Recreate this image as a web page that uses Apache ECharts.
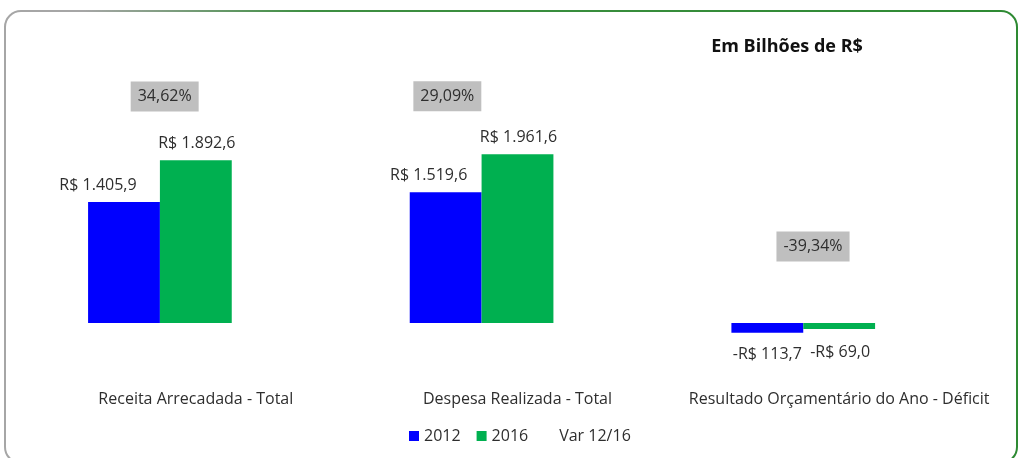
<!DOCTYPE html>
<html>
<head>
<meta charset="utf-8">
<script src="https://cdn.jsdelivr.net/npm/echarts@6/dist/echarts.min.js"></script>
<style>
  html, body { margin: 0; padding: 0; background: #fff; }
  #chart { width: 1020px; height: 458px; }
</style>
</head>
<body>
<div id="chart"></div>
<script>
const categories = ['Receita Arrecadada - Total', 'Despesa Realizada - Total', 'Resultado Orçamentário do Ano - Déficit']
const values2012 = [1405.9, 1519.6, -113.7]
const values2016 = [1892.6, 1961.6, -69.0]
const variation = [34.62, 29.09, -39.34]

// where Excel left the % boxes (moved by hand in the original)
const varOffsets = [[-103, -48], [-142, -49], [-98, 38]]
const blueLabelShift = [-26, -17, 0]

const textColor = '#2e2e2e'
const fontFamily = '"Open Sans", "Noto Sans", sans-serif'

function brl(v) {
  const s = Math.abs(v).toFixed(1).split('.')
  const int = s[0].replace(/\B(?=(\d{3})+(?!\d))/g, '.')
  return (v < 0 ? '-' : '') + 'R$ ' + int + ',' + s[1]
}

const chart = echarts.init(document.getElementById('chart'))

chart.setOption({
  animation: false,
  textStyle: { fontFamily: fontFamily, color: textColor },
  title: {
    text: 'Em Bilhões de R$',
    left: 782,
    top: 33,
    textAlign: 'center',
    textStyle: { fontSize: 18, fontWeight: 'bold', color: '#111', fontFamily: fontFamily }
  },
  legend: {
    left: 404,
    top: 423,
    icon: 'rect',
    itemWidth: 10,
    itemHeight: 10,
    itemGap: 16,
    textStyle: { fontSize: 16, color: textColor },
    data: ['2012', '2016', 'Var 12/16']
  },
  grid: {
    left: 35,
    right: 20,
    top: 116.6,
    bottom: 100.6,
    containLabel: false
  },
  xAxis: {
    type: 'category',
    data: categories,
    axisLine: { show: false },
    axisTick: { show: false },
    axisLabel: { margin: 34, fontSize: 16, color: textColor, interval: 0 }
  },
  yAxis: [{
    type: 'value',
    min: -400,
    max: 2400,
    show: false
  }, {
    type: 'value',
    min: -100,
    max: 30,
    show: false
  }],
  series: [{
    name: '2012',
    type: 'bar',
    barGap: 0,
    barCategoryGap: '33%',
    itemStyle: { color: '#0000FF' },
    label: {
      show: true,
      position: 'outside',
      distance: 9,
      fontSize: 16,
      color: textColor,
      formatter: p => brl(p.value)
    },
    data: values2012.map((v, i) => ({ value: v, label: { offset: [blueLabelShift[i], v < 0 ? 5 : 0] } }))
  }, {
    name: '2016',
    type: 'bar',
    barGap: 0,
    barCategoryGap: '33%',
    itemStyle: { color: '#00B050' },
    label: {
      show: true,
      position: 'outside',
      distance: 9,
      fontSize: 16,
      color: textColor,
      formatter: p => brl(p.value)
    },
    data: values2016.map(v => ({ value: v, label: { offset: [1, v < 0 ? 7 : 0] } }))
  }, {
    name: 'Var 12/16',
    type: 'bar',
    yAxisIndex: 1,
    barGap: 0,
    barCategoryGap: '33%',
    itemStyle: { color: 'rgba(0,0,0,0)' },
    label: {
      show: true,
      position: 'inside',
      fontSize: 16,
      color: textColor,
      backgroundColor: '#BFBFBF',
      padding: [7, 7, 7, 7],
      formatter: p => p.value.toFixed(2).replace('.', ',') + '%'
    },
    data: variation.map((v, i) => ({ value: v, label: { offset: varOffsets[i] } }))
  }],
  graphic: [{
    type: 'rect',
    silent: true,
    shape: { x: 5, y: 11, width: 1012, height: 452, r: 16 },
    style: {
      fill: 'none',
      lineWidth: 2,
      stroke: new echarts.graphic.LinearGradient(0, 0, 1, 0, [
        { offset: 0, color: '#A6A6A6' },
        { offset: 0.08, color: '#A6A6A6' },
        { offset: 0.3, color: '#3E8F42' },
        { offset: 1, color: '#2E8A33' }
      ])
    }
  }]
})
</script>
</body>
</html>
